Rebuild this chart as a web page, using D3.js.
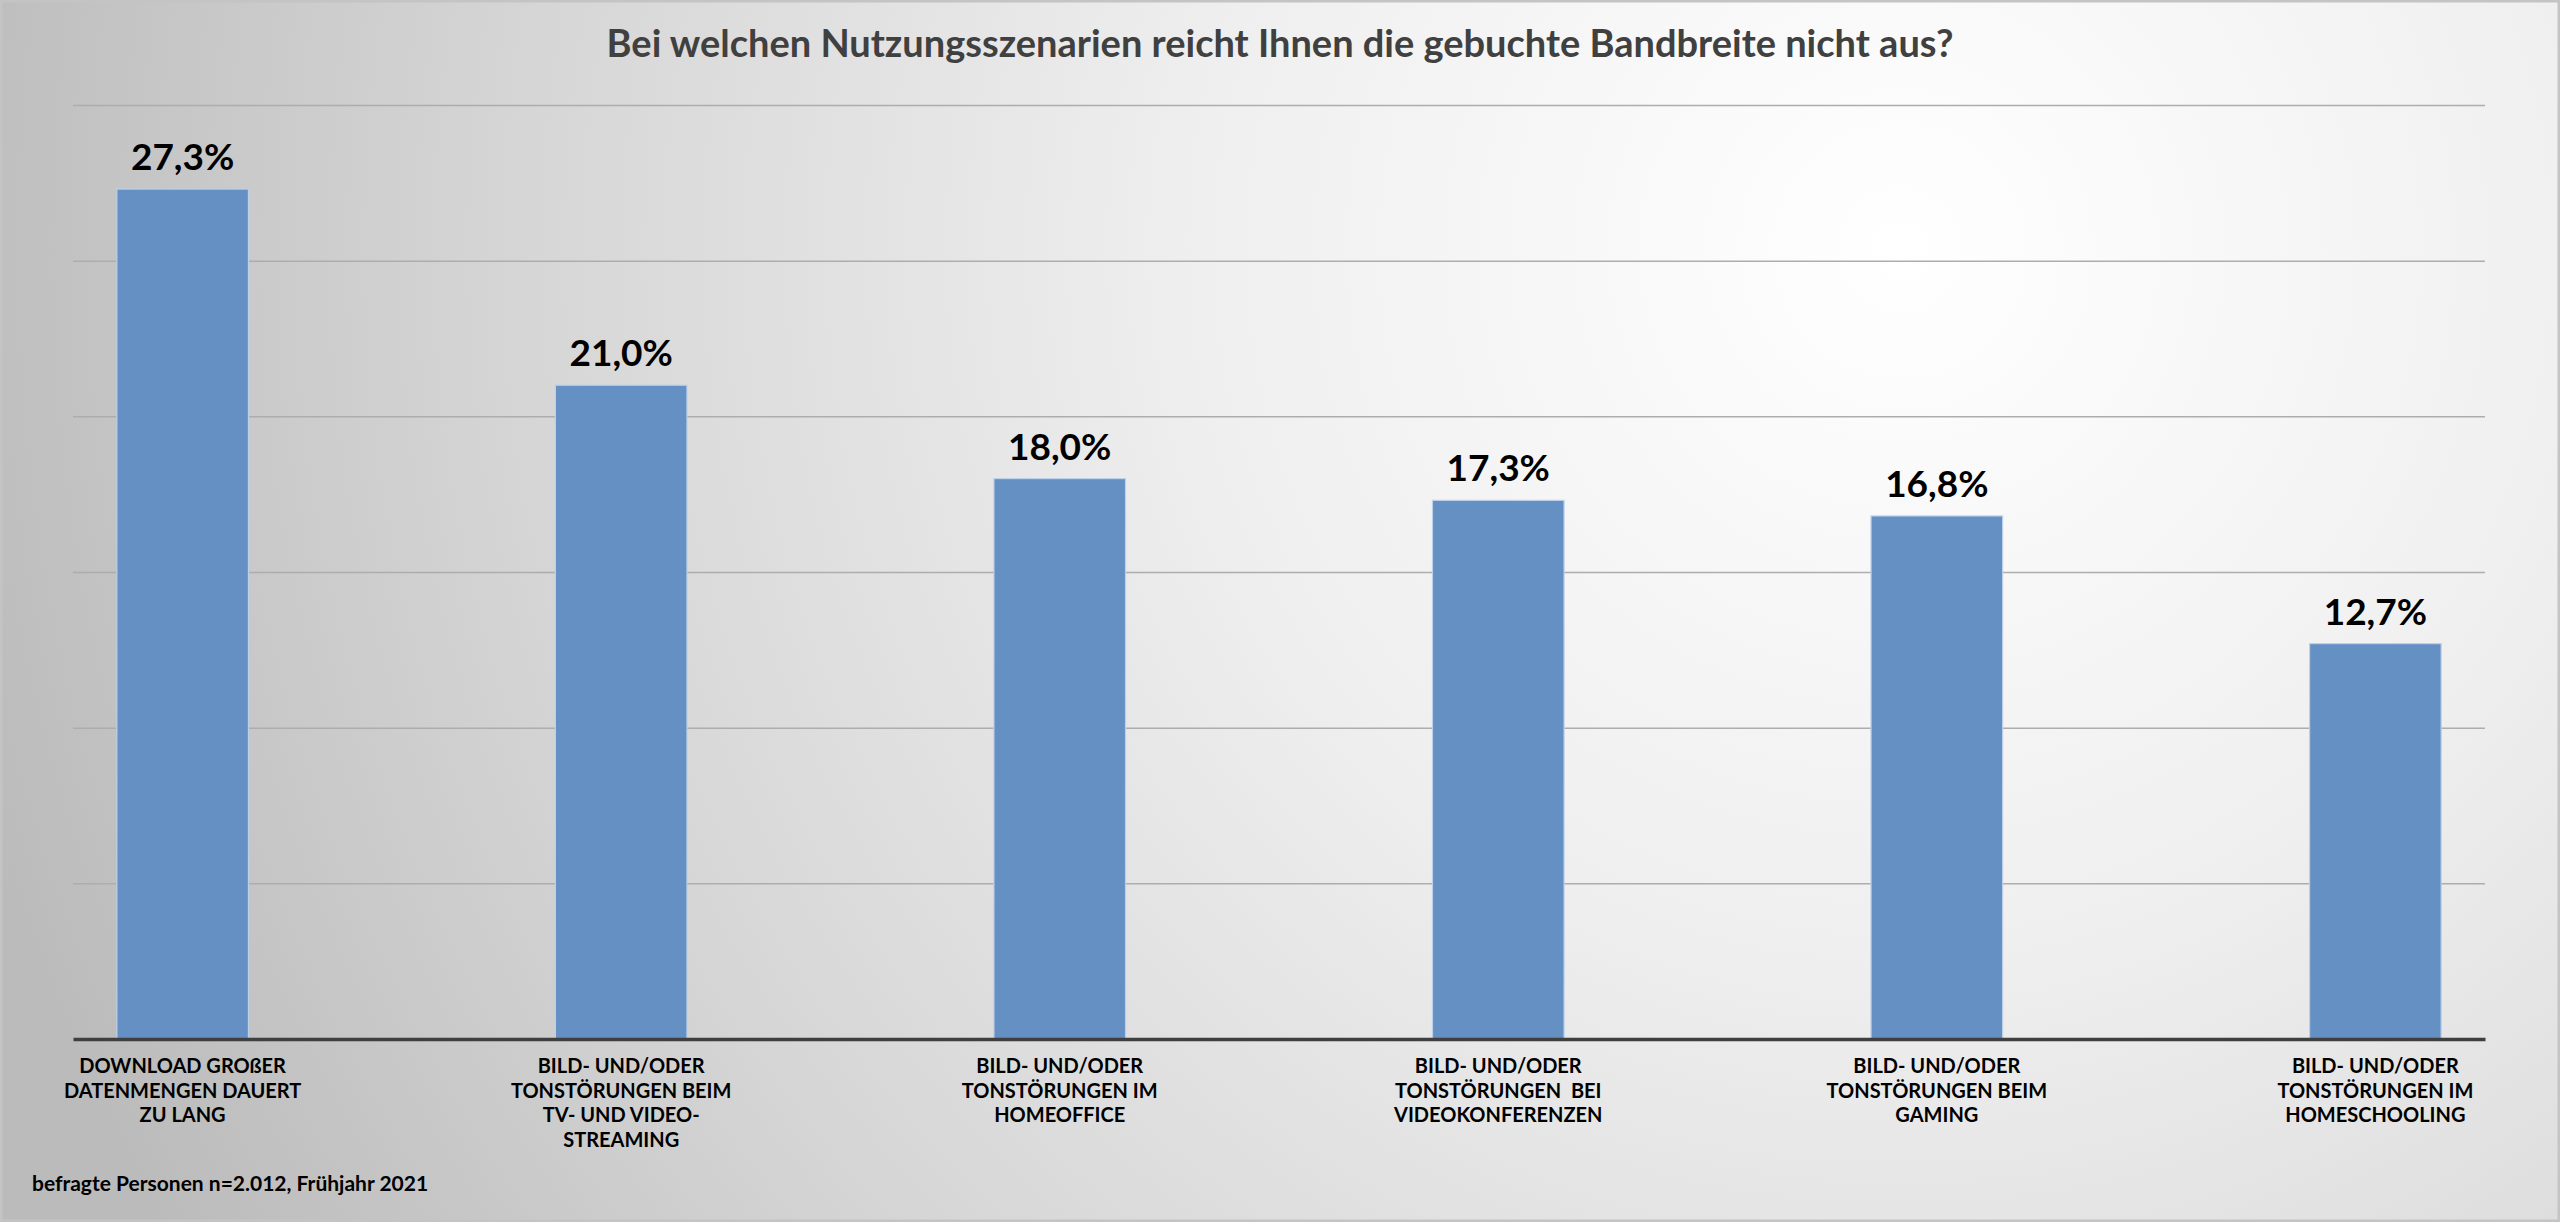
<!DOCTYPE html>
<html>
<head>
<meta charset="utf-8">
<script src="https://cdn.jsdelivr.net/npm/d3@7"></script>
<style>
  body { margin: 0; background: #fff; }
  svg { display: block; font-family: Lato, "Open Sans", sans-serif; }
</style>
</head>
<body>
<svg id="chart"></svg>
<script>
const categories = [
    ["DOWNLOAD GROßER", "DATENMENGEN DAUERT", "ZU LANG"],
    ["BILD- UND/ODER", "TONSTÖRUNGEN BEIM", "TV- UND VIDEO-", "STREAMING"],
    ["BILD- UND/ODER", "TONSTÖRUNGEN IM", "HOMEOFFICE"],
    ["BILD- UND/ODER", "TONSTÖRUNGEN\u00a0 BEI", "VIDEOKONFERENZEN"],
    ["BILD- UND/ODER", "TONSTÖRUNGEN BEIM", "GAMING"],
    ["BILD- UND/ODER", "TONSTÖRUNGEN IM", "HOMESCHOOLING"]
];
const values = [27.3, 21.0, 18.0, 17.3, 16.8, 12.7];
const yTicks = [0, 5, 10, 15, 20, 25, 30];
const title = "Bei welchen Nutzungsszenarien reicht Ihnen die gebuchte Bandbreite nicht aus?";
const note = "befragte Personen n=2.012, Frühjahr 2021";

const width = 2560, height = 1222;
const plot = { left: 73, right: 2485, top: 105, bottom: 1039 };

const svg = d3.select("#chart")
    .attr("width", width)
    .attr("height", height);

// background: radial grey-to-white like the office chart area
const defs = svg.append("defs");
const grad = defs.append("radialGradient")
    .attr("id", "bg")
    .attr("gradientUnits", "userSpaceOnUse")
    .attr("cx", 1900).attr("cy", 250).attr("r", 2000);
grad.append("stop").attr("offset", 0).attr("stop-color", "#ffffff");
grad.append("stop").attr("offset", 0.35).attr("stop-color", "#efefef");
grad.append("stop").attr("offset", 0.7).attr("stop-color", "#d5d5d5");
grad.append("stop").attr("offset", 1).attr("stop-color", "#bbbbbb");

svg.append("rect")
    .attr("width", width).attr("height", height)
    .attr("fill", "url(#bg)");
svg.append("rect")
    .attr("x", 1).attr("y", 1)
    .attr("width", width - 2).attr("height", height - 2)
    .attr("fill", "none")
    .attr("stroke", "#c4c4c4")
    .attr("stroke-width", 3);

const x = d3.scaleBand()
    .domain(d3.range(values.length))
    .range([plot.left, plot.right])
    .paddingInner(0.7)
    .paddingOuter(0.1);

const y = d3.scaleLinear()
    .domain([0, d3.max(yTicks)])
    .range([plot.bottom, plot.top]);

// gridlines
svg.append("g")
    .attr("transform", `translate(${plot.left},0)`)
    .call(d3.axisLeft(y)
        .tickValues(yTicks.slice(1))
        .tickSize(-(plot.right - plot.left))
        .tickFormat(""))
    .call(g => g.select(".domain").remove())
    .call(g => g.selectAll(".tick line")
        .attr("stroke", "#adadad")
        .attr("stroke-width", 1.5));

// bars
svg.append("g")
    .selectAll("rect")
    .data(values)
    .join("rect")
    .attr("x", (d, i) => x(i))
    .attr("y", d => y(d))
    .attr("width", x.bandwidth())
    .attr("height", d => y(0) - y(d))
    .attr("fill", "#6590c4")
    .attr("stroke", "#bcd0ea")
    .attr("stroke-width", 1.2);

// baseline axis
svg.append("g")
    .attr("transform", `translate(0,${plot.bottom})`)
    .call(d3.axisBottom(x).tickSize(0).tickFormat(""))
    .call(g => g.select(".domain")
        .attr("stroke", "#3f3f3f")
        .attr("stroke-width", 3.5));

const fmt = d => d3.format(".1f")(d).replace(".", ",") + "%";

// value labels
svg.append("g")
    .selectAll("text")
    .data(values)
    .join("text")
    .attr("x", (d, i) => x(i) + x.bandwidth() / 2)
    .attr("y", d => y(d) - 19)
    .attr("text-anchor", "middle")
    .attr("font-size", 37)
    .attr("font-weight", 700)
    .attr("fill", "#000")
    .text(fmt);

// category labels
svg.append("g")
    .selectAll("text")
    .data(categories)
    .join("text")
    .attr("x", (d, i) => x(i) + x.bandwidth() / 2)
    .attr("y", 1073)
    .attr("text-anchor", "middle")
    .attr("font-size", 20)
    .attr("font-weight", 700)
    .attr("fill", "#000")
    .each(function (lines) {
        const t = d3.select(this);
        lines.forEach((line, k) => {
            t.append("tspan")
                .attr("x", t.attr("x"))
                .attr("dy", k === 0 ? 0 : 24.5)
                .text(line);
        });
    });

// title
svg.append("text")
    .attr("x", 1280)
    .attr("y", 57)
    .attr("text-anchor", "middle")
    .attr("font-size", 38)
    .attr("font-weight", 700)
    .attr("fill", "#404040")
    .text(title);

// footnote
svg.append("text")
    .attr("x", 32)
    .attr("y", 1191)
    .attr("font-size", 21)
    .attr("font-weight", 700)
    .attr("fill", "#000")
    .text(note);
</script>
</body>
</html>
